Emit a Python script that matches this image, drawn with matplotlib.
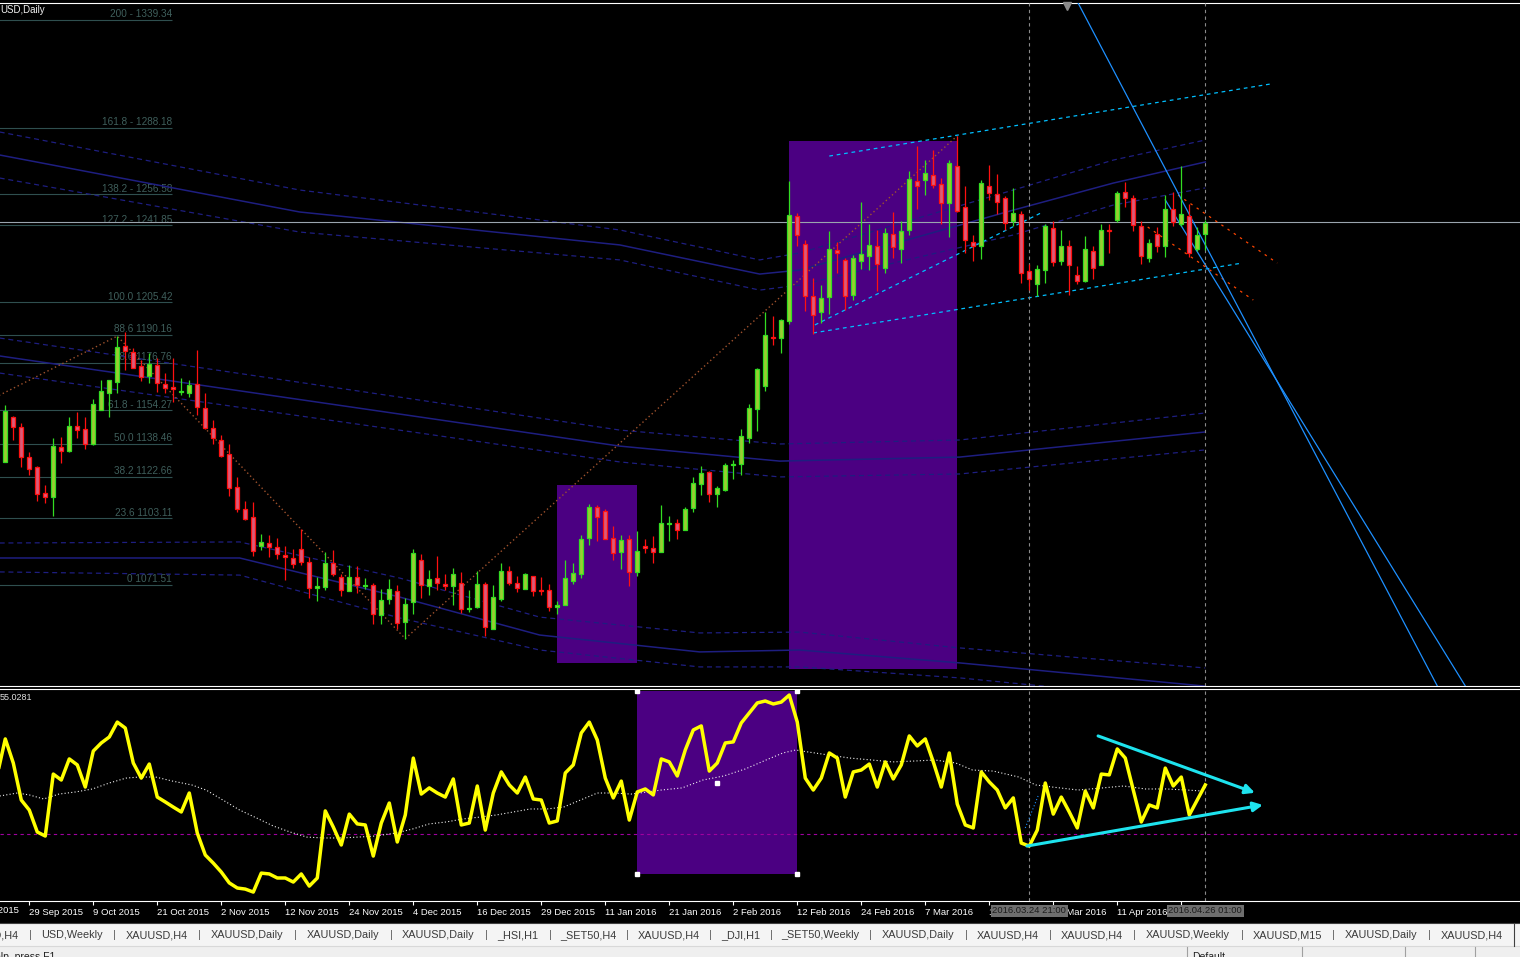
import numpy as np
import matplotlib.pyplot as plt
import matplotlib.transforms as mtransforms
from matplotlib.patches import Rectangle

plt.rcParams['font.family'] = ['Liberation Sans', 'DejaVu Sans']

# XAUUSD daily bars, index 0 = 24 Sep 2015 ... index 150 = 26 Apr 2016
opens = [1130.0, 1151.2, 1146.2, 1132.1, 1127.3, 1115.0, 1113.4, 1136.9, 1135.0, 1146.8,
         1145.3, 1138.3, 1154.4, 1162.6, 1167.8, 1184.6, 1181.8, 1175.2, 1170.6, 1175.7,
         1166.7, 1165.1, 1162.8, 1162.6, 1166.5, 1155.2, 1145.7, 1140.2, 1133.5, 1117.9,
         1107.5, 1103.7, 1089.8, 1091.4, 1089.5, 1085.8, 1084.3, 1088.6, 1082.5, 1070.2,
         1070.6, 1082.0, 1075.4, 1068.6, 1075.4, 1070.9, 1071.4, 1057.2, 1065.0, 1068.6,
         1053.9, 1063.4, 1083.2, 1070.9, 1074.9, 1072.1, 1070.9, 1072.5, 1059.9, 1061.0,
         1072.2, 1050.8, 1065.0, 1078.3, 1072.5, 1069.8, 1076.0, 1068.9, 1068.9, 1061.2,
         1062.0, 1073.3, 1076.5, 1093.6, 1108.5, 1106.7, 1093.9, 1087.0, 1093.4, 1077.5,
         1090.2, 1089.2, 1087.0, 1100.4, 1101.0, 1097.4, 1107.8, 1119.3, 1125.0, 1114.6,
         1116.6, 1128.3, 1128.6, 1141.3, 1154.7, 1165.7, 1189.0, 1188.7, 1196.6, 1246.5,
         1233.1, 1208.4, 1200.8, 1207.9, 1230.0, 1225.3, 1208.7, 1224.9, 1227.3, 1231.9,
         1221.6, 1237.9, 1230.8, 1239.8, 1263.1, 1263.4, 1265.7, 1261.5, 1252.5, 1270.1,
         1250.4, 1233.9, 1232.0, 1260.4, 1256.8, 1254.7, 1243.8, 1247.3, 1220.2, 1214.3,
         1220.9, 1240.7, 1224.9, 1232.0, 1218.5, 1215.3, 1229.7, 1222.9, 1239.9, 1244.5,
         1257.9, 1254.9, 1241.5, 1226.5, 1237.9, 1232.0, 1249.7, 1242.3, 1246.2, 1230.5,
         1237.9]
highs = [1156.8, 1151.6, 1148.1, 1134.4, 1128.1, 1118.8, 1141.0, 1141.5, 1150.9, 1153.4,
         1150.9, 1159.6, 1168.6, 1168.6, 1189.4, 1191.4, 1184.0, 1178.0, 1181.2, 1178.8,
         1171.7, 1178.8, 1169.4, 1168.6, 1182.7, 1162.3, 1149.7, 1142.6, 1138.3, 1122.9,
         1111.4, 1110.6, 1095.8, 1095.3, 1093.8, 1089.8, 1088.6, 1098.2, 1084.8, 1075.4,
         1087.2, 1088.3, 1076.5, 1081.2, 1080.7, 1074.9, 1072.5, 1069.7, 1074.4, 1071.4,
         1065.4, 1088.6, 1086.4, 1078.8, 1085.4, 1076.5, 1079.6, 1077.6, 1068.9, 1078.0,
         1072.8, 1071.7, 1081.7, 1080.7, 1075.6, 1077.2, 1076.0, 1075.2, 1072.2, 1063.9,
         1083.5, 1082.0, 1095.3, 1110.0, 1109.5, 1107.5, 1099.3, 1095.3, 1095.3, 1097.2,
         1093.4, 1094.5, 1109.5, 1104.3, 1102.8, 1108.4, 1122.6, 1127.9, 1125.6, 1118.5,
         1129.2, 1130.8, 1145.3, 1157.1, 1174.1, 1200.8, 1198.9, 1197.4, 1263.1, 1247.9,
         1234.7, 1216.9, 1213.4, 1239.4, 1234.2, 1226.3, 1227.9, 1253.1, 1242.6, 1239.9,
         1240.7, 1248.4, 1243.7, 1267.8, 1279.6, 1273.0, 1277.7, 1264.1, 1273.0, 1284.3,
         1260.7, 1237.5, 1263.4, 1270.6, 1266.2, 1256.0, 1259.6, 1248.9, 1223.7, 1222.9,
         1242.6, 1243.7, 1239.8, 1235.0, 1222.4, 1236.6, 1231.9, 1242.6, 1242.6, 1258.3,
         1262.2, 1256.4, 1243.7, 1235.5, 1241.0, 1256.4, 1257.8, 1270.1, 1252.0, 1241.0,
         1244.5]
lows = [1130.0, 1140.2, 1127.6, 1123.7, 1111.1, 1110.3, 1104.0, 1129.5, 1134.7, 1141.0,
        1136.0, 1137.9, 1154.4, 1150.9, 1162.6, 1173.3, 1174.1, 1168.1, 1167.0, 1163.1,
        1162.3, 1158.3, 1161.5, 1160.4, 1152.0, 1145.3, 1138.3, 1132.3, 1113.9, 1105.9,
        1102.4, 1085.1, 1087.9, 1084.6, 1083.9, 1073.8, 1079.6, 1080.8, 1065.4, 1063.9,
        1069.0, 1075.7, 1066.2, 1068.6, 1067.8, 1069.7, 1052.8, 1052.8, 1062.7, 1050.5,
        1046.1, 1057.6, 1065.4, 1067.0, 1069.0, 1069.0, 1061.8, 1058.4, 1058.6, 1060.4,
        1047.3, 1050.8, 1063.9, 1071.4, 1068.1, 1069.4, 1066.2, 1067.0, 1059.1, 1057.6,
        1062.0, 1072.2, 1074.6, 1090.6, 1092.2, 1093.4, 1083.2, 1079.3, 1070.9, 1075.7,
        1086.7, 1082.0, 1087.0, 1092.2, 1093.4, 1097.4, 1106.3, 1114.2, 1110.6, 1108.3,
        1116.1, 1121.8, 1123.7, 1139.0, 1144.6, 1163.5, 1185.1, 1181.2, 1195.0, 1231.9,
        1201.2, 1190.6, 1195.4, 1199.7, 1219.3, 1201.6, 1206.4, 1221.0, 1220.5, 1210.7,
        1219.3, 1226.3, 1224.2, 1237.1, 1249.4, 1256.3, 1259.6, 1242.6, 1236.3, 1248.1,
        1228.7, 1224.9, 1226.1, 1253.9, 1247.3, 1239.9, 1241.8, 1214.7, 1211.1, 1208.2,
        1214.5, 1222.6, 1223.2, 1208.7, 1214.2, 1215.0, 1216.6, 1222.9, 1228.7, 1243.3,
        1250.5, 1239.1, 1223.7, 1224.5, 1229.2, 1227.1, 1241.8, 1241.8, 1226.8, 1229.7,
        1230.3]
closes = [1153.9, 1146.5, 1132.1, 1126.5, 1114.6, 1113.0, 1137.4, 1135.2, 1146.8, 1145.1,
          1138.5, 1157.2, 1163.4, 1168.6, 1184.3, 1182.4, 1174.4, 1169.9, 1176.1, 1167.0,
          1164.9, 1164.2, 1163.4, 1166.2, 1155.7, 1145.7, 1141.0, 1132.8, 1117.4, 1107.5,
          1102.9, 1087.5, 1092.0, 1089.4, 1086.2, 1084.8, 1081.5, 1082.5, 1070.2, 1070.9,
          1082.0, 1076.8, 1068.9, 1075.4, 1071.3, 1071.4, 1057.9, 1064.6, 1069.4, 1053.6,
          1062.3, 1086.7, 1071.3, 1074.4, 1072.5, 1070.9, 1076.8, 1060.3, 1060.7, 1072.2,
          1051.7, 1065.9, 1078.3, 1072.5, 1070.2, 1076.8, 1068.6, 1068.6, 1061.2, 1062.0,
          1074.6, 1077.2, 1093.4, 1108.5, 1103.5, 1093.4, 1086.7, 1093.0, 1077.5, 1087.8,
          1088.9, 1087.0, 1101.0, 1101.0, 1097.4, 1107.6, 1119.8, 1124.5, 1114.6, 1117.4,
          1128.4, 1128.9, 1142.1, 1155.5, 1173.6, 1189.8, 1188.4, 1196.9, 1247.0, 1237.1,
          1208.4, 1199.6, 1207.6, 1230.8, 1228.7, 1208.4, 1226.5, 1228.4, 1232.8, 1223.7,
          1238.3, 1231.5, 1239.4, 1263.9, 1260.7, 1266.7, 1261.0, 1252.5, 1271.4, 1248.9,
          1234.7, 1232.0, 1262.0, 1257.2, 1253.1, 1243.1, 1247.8, 1219.4, 1216.6, 1221.3,
          1241.5, 1224.5, 1232.0, 1223.2, 1215.3, 1230.8, 1221.8, 1239.8, 1239.1, 1257.2,
          1254.9, 1242.1, 1227.3, 1233.6, 1232.0, 1249.7, 1243.3, 1247.3, 1228.9, 1237.4,
          1243.1]

# oscillator (index -1 ... 150) and its dotted signal line
osc = [59.2, 76.1, 64.8, 47.4, 42.7, 32.4, 30.5, 59.6, 56.8, 66.7, 63.9,
       53.5, 70.4, 74.2, 77.0, 84.0, 81.2, 64.8, 57.7, 64.3, 48.8,
       46.5, 44.1, 41.8, 50.7, 31.9, 21.6, 17.8, 13.6, 8.5, 6.1,
       5.6, 4.2, 13.1, 12.7, 10.8, 10.8, 8.9, 12.7, 7.0, 10.8,
       42.3, 34.7, 26.3, 40.8, 36.2, 35.7, 21.1, 36.6, 46.0, 27.7,
       40.4, 67.1, 50.2, 53.1, 50.7, 48.8, 57.3, 35.7, 36.6, 54.0,
       33.3, 50.7, 60.6, 54.5, 50.7, 58.2, 47.9, 47.4, 36.6, 37.6,
       60.1, 63.9, 78.9, 84.0, 75.6, 57.7, 48.4, 56.3, 38.0, 51.2,
       52.6, 49.8, 66.7, 65.3, 58.7, 70.9, 80.3, 82.2, 61.0, 64.8,
       74.2, 74.7, 83.6, 88.3, 93.0, 93.9, 92.5, 93.4, 96.7, 84.0,
       57.7, 52.1, 57.7, 69.5, 67.1, 48.8, 60.6, 61.5, 64.3, 53.5,
       65.3, 57.3, 63.9, 77.5, 72.8, 76.1, 65.3, 53.5, 69.5, 45.5,
       35.7, 34.3, 60.6, 55.9, 52.1, 43.7, 48.4, 27.2, 25.8, 33.3,
       55.4, 40.8, 48.8, 41.8, 34.3, 51.6, 43.7, 59.6, 59.2, 71.4,
       67.1, 52.1, 37.1, 45.1, 43.7, 62.4, 54.0, 58.2, 40.4, 47.4,
       54.5]
sig_x = [-0.7, 1.5, 3.0, 4.8, 6.7, 8.8, 10.9, 13.0, 15.1, 16.7, 18.8, 20.9, 23.3, 25.1,
         27.2, 29.3, 31.4, 33.5, 35.6, 37.7, 39.8, 42.0, 44.1, 46.2, 48.8, 50.9, 53.0,
         55.1, 57.2, 59.3, 61.4, 63.5, 65.6, 67.7, 69.8, 71.9, 74.0, 76.1, 78.2, 79.3,
         82.0, 84.6, 87.2, 89.8, 92.5, 95.1, 97.2, 98.8, 100.3, 103.0, 105.6, 108.3,
         110.9, 113.5, 116.2, 118.8, 120.9, 123.5, 126.7, 128.8, 130.9, 134.1, 137.2,
         139.8, 142.5, 145.1, 147.7, 149.8]
sig_v = [49.3, 50.7, 49.8, 47.9, 50.2, 51.2, 52.6, 55.4, 57.7, 58.2, 58.2, 56.3, 54.5, 52.1,
         47.4, 42.7, 39.0, 35.2, 32.4, 30.0, 29.6, 29.6, 30.0, 30.5, 31.9, 33.8, 36.2,
         37.1, 38.5, 39.4, 40.4, 41.8, 43.2, 43.2, 44.1, 47.4, 50.7, 50.7, 50.2, 50.7,
         52.1, 53.1, 56.8, 58.7, 62.0, 66.2, 69.5, 70.9, 70.0, 68.5, 67.1, 66.2,
         65.3, 65.7, 66.2, 64.8, 61.5, 61.0, 58.2, 54.5, 53.5, 52.1, 53.1,
         54.0, 52.6, 52.6, 52.1, 51.6]
osc_level = 31.5

# Fibonacci retracement
fib_labels = ['200 - 1339.34', '161.8 - 1288.18', '138.2 - 1256.58', '127.2 - 1241.85',
              '100.0 1205.42', '88.6 1190.16', '78.6 1176.76', '61.8 - 1154.27',
              '50.0 1138.46', '38.2 1122.66', '23.6 1103.11', '0 1071.51']
fib_prices = [1339.34, 1288.18, 1256.58, 1241.85, 1205.42, 1190.16, 1176.76, 1154.27,
              1138.46, 1122.66, 1103.11, 1071.51]

# moving-average envelopes (upper / middle / lower)
ma1_x = [-0.7, 36.8, 76.8, 94.3, 99.3, 126.0, 138.5, 150.0]
ma1_up = [1286.1, 1258.6, 1239.7, 1225.5, 1228.8, 1258.6, 1272.8, 1282.3]
ma1_mid = [1275.2, 1248.2, 1232.6, 1218.8, 1220.7, 1249.1, 1261.9, 1271.9]
ma1_lo = [1264.3, 1238.7, 1225.5, 1211.2, 1213.6, 1237.3, 1251.5, 1259.6]
ma2_x = [-0.7, 51.8, 76.8, 96.8, 119.3, 150.0]
ma2_up = [1188.5, 1159.1, 1144.9, 1138.3, 1140.2, 1153.0]
ma2_mid = [1180.0, 1151.1, 1137.3, 1130.2, 1132.1, 1144.0]
ma2_lo = [1171.9, 1143.5, 1129.8, 1122.7, 1124.1, 1135.5]
ma3_x = [-0.7, 29.3, 49.3, 66.8, 86.8, 99.3, 119.3, 150.0]
ma3_up = [1091.4, 1091.9, 1074.8, 1056.3, 1048.8, 1049.2, 1041.7, 1032.2]
ma3_mid = [1084.3, 1084.3, 1065.8, 1047.8, 1039.8, 1040.7, 1034.6, 1023.6]
ma3_lo = [1077.7, 1076.2, 1055.9, 1040.7, 1032.7, 1032.7, 1027.5, 1016.1]

# zigzag and drawn objects
zz_x = [-5, 14, 50, 119]
zz_p = [1153.3, 1189.4, 1046.1, 1284.3]
chan_up = [(103.0, 1274.7), (158.1, 1308.8)]
chan_mid = [(101.2, 1194.7), (129.7, 1248.2)]
chan_lo = [(101.0, 1190.9), (154.6, 1224.0)]
red_1 = [(146.6, 1256.2), (159.0, 1224.0)]
red_2 = [(142.8, 1241.1), (156.0, 1206.5)]
blue_1 = [(134.1, 1347.2), (179.0, 1023.7)]
blue_2 = [(145.0, 1253.9), (182.5, 1023.7)]
hline_price = 1243.3
vlines_idx = [128, 150]
vline_lbl = ['2016.03.24 21:00', '2016.04.26 01:00']
rects = [(69, 79, 1034.5, 1118.9), (98, 119, 1031.7, 1281.8)]
osc_rect = (79, 99, 12.7, 98.6)
arrow_1 = [(136.6, 77.5), (156.2, 50.8)]
arrow_2 = [(127.7, 25.8), (157.2, 45.1)]

tick_idx = [-5, 3, 11, 19, 27, 35, 43, 51, 59, 67, 75, 83, 91, 99, 107, 115, 123, 131, 139, 147]
tick_lbl = ['17 Sep 2015', '29 Sep 2015', '9 Oct 2015', '21 Oct 2015', '2 Nov 2015',
            '12 Nov 2015', '24 Nov 2015', '4 Dec 2015', '16 Dec 2015', '29 Dec 2015',
            '11 Jan 2016', '21 Jan 2016', '2 Feb 2016', '12 Feb 2016', '24 Feb 2016',
            '7 Mar 2016', '17 Mar 2016', '29 Mar 2016', '11 Apr 2016', '21 Apr 2016']

tab_names = ['XAUUSD,H4', 'USD,Weekly', 'XAUUSD,H4', 'XAUUSD,Daily', 'XAUUSD,Daily',
             'XAUUSD,Daily', '_HSI,H1', '_SET50,H4', 'XAUUSD,H4', '_DJI,H1', '_SET50,Weekly',
             'XAUUSD,Daily', 'XAUUSD,H4', 'XAUUSD,H4', 'XAUUSD,Weekly', 'XAUUSD,M15',
             'XAUUSD,Daily', 'XAUUSD,H4']
tab_seps = [30, 114, 199, 295, 391, 486, 550, 627, 710, 771, 870, 966, 1050, 1134, 1242,
            1333, 1429, 1514]

W, H = 1520, 957
XLIM = (-0.66, 189.34)
fig = plt.figure(figsize=(W / 100, H / 100), dpi=100, facecolor='black')
ax = fig.add_axes([0, 1 - 686 / H, 1, 683 / H], facecolor='none')
ind = fig.add_axes([0, 1 - 901 / H, 1, 212.5 / H], facecolor='none')
for a in (ax, ind):
    a.spines['left'].set_visible(False)
    a.spines['right'].set_visible(False)
    a.spines['top'].set_color('white')
    a.spines['bottom'].set_color('white')
    a.spines['top'].set_linewidth(0.8)
    a.spines['bottom'].set_linewidth(0.8)
    a.set_yticks([])
ax.set_xticks([])
ax.set_ylim(1023.66, 1347.2)
ind.set_ylim(0, 99.77)

# rectangles
for x0, x1, y0, y1 in rects:
    ax.add_patch(Rectangle((x0, y0), x1 - x0, y1 - y0, fc='#4b0082', ec='none', zorder=1))

# fibo
ax.hlines(fib_prices, -1, 20.84, colors='#2f4f4f', lw=0.8, zorder=2)
for lbl, p in zip(fib_labels, fib_prices):
    ax.annotate(lbl, (20.84, p), xytext=(0, 2), textcoords='offset points',
                ha='right', va='baseline', fontsize=7.2, color='#3f5f5c', zorder=2)

# envelopes
navy = '#1e1e80'
for xs, up, mid, lo in ((ma1_x, ma1_up, ma1_mid, ma1_lo), (ma2_x, ma2_up, ma2_mid, ma2_lo),
                        (ma3_x, ma3_up, ma3_mid, ma3_lo)):
    ax.plot(xs, up, color=navy, lw=0.9, ls=(0, (4, 3)), zorder=2)
    ax.plot(xs, mid, color=navy, lw=1.1, zorder=2)
    ax.plot(xs, lo, color=navy, lw=0.9, ls=(0, (4, 3)), zorder=2)

ax.plot(zz_x, zz_p, color='#a0522d', lw=1.0, ls=(0, (1, 2)), zorder=2)
ax.axhline(hline_price, color='#9aa4ae', lw=0.8, zorder=2)
for seg in (chan_up, chan_mid, chan_lo):
    ax.plot(*zip(*seg), color='#00bfff', lw=0.9, ls=(0, (3, 3)), zorder=2)
for seg in (red_1, red_2):
    ax.plot(*zip(*seg), color='#ff4500', lw=0.9, ls=(0, (2, 4)), zorder=2)
for seg in (blue_1, blue_2):
    ax.plot(*zip(*seg), color='#1e90ff', lw=0.9, zorder=3)
ax.plot([132.7], [1346.0], marker='v', ms=6, color='#8a8a8a', clip_on=False, zorder=3)

# candles
o, h, l, c = map(np.array, (opens, highs, lows, closes))
idx = np.arange(len(o))
bull = c >= o
edge = np.where(bull, '#33dd22', '#ff1010')
fill = np.where(bull, '#9acd32', '#dc5a78')
ax.vlines(idx, l, h, colors=edge, lw=0.9, zorder=4)
ax.bar(idx, np.maximum(np.abs(c - o), 0.4), bottom=np.minimum(o, c), width=0.52,
       color=fill, edgecolor=edge, linewidth=0.9, zorder=5)

for v in vlines_idx:
    for a in (ax, ind):
        a.axvline(v, color='#8a8a8a', lw=0.8, ls=(0, (3, 3)), zorder=3)

# oscillator panel
x0, x1, y0, y1 = osc_rect
ind.add_patch(Rectangle((x0, y0), x1 - x0, y1 - y0, fc='#4b0082', ec='none', zorder=1))
ind.plot([x0, x1, x0, x1, (x0 + x1) / 2], [y1, y1, y0, y0, 55.4], 's', ms=2.5,
         color='white', zorder=5)
ind.axhline(osc_level, color='#a000a0', lw=0.8, ls=(0, (3, 3)), zorder=2)
ind.plot(sig_x, sig_v, color='#f0f0f0', lw=0.8, ls=(0, (1, 2)), zorder=3)
ind.plot(np.arange(-1, len(osc) - 1), osc, color='#ffff00', lw=2.5, zorder=4)
ind.plot([127.5, 129.1], [34.3, 49.3], color='#1e90ff', lw=0.8, ls=(0, (1, 2)), zorder=3)
for a0, a1 in (arrow_1, arrow_2):
    ind.annotate('', xy=a1, xytext=a0,
                 arrowprops=dict(arrowstyle='-|>', color='#1ee3ee', lw=2.2,
                                 mutation_scale=14, shrinkA=0, shrinkB=0), zorder=5)

# time axis: ticks inside the view, plus the partly hidden first label
inside = [(t, s) for t, s in zip(tick_idx, tick_lbl) if t >= XLIM[0]]
ind.set_xticks([t for t, _ in inside])
ind.set_xticklabels([s for _, s in inside], ha='left', fontsize=6.8, color='white')
ind.tick_params(axis='x', direction='out', length=3, color='white', pad=2)
for a in (ax, ind):
    a.set_xlim(*XLIM)

blend = mtransforms.blended_transform_factory(ind.transData, ind.transAxes)
for t, s in zip(tick_idx, tick_lbl):
    if t < XLIM[0]:
        ind.text(t, -0.047, s, transform=blend, ha='left', va='center', fontsize=6.8,
                 color='white', clip_on=False)
for v, lbl in zip(vlines_idx, vline_lbl):
    ind.text(v, -0.047, lbl, transform=blend, ha='center', va='center', fontsize=6.8,
             color='#1c1c1c', clip_on=False, zorder=6,
             bbox=dict(boxstyle='square,pad=0.18', fc='#6e6e6e', ec='none'))

# window chrome
ui = fig.add_axes([0, 0, 1, 1], facecolor='none')
ui.set_xlim(0, W)
ui.set_ylim(H, 0)
ui.axis('off')
ui.text(0, 10, 'USD,Daily', fontsize=7, color='#f0f0f0', va='center', ha='left')
ui.text(0, 697, '55.0281', fontsize=6.5, color='#e0e0e0', va='center', ha='left')
ui.add_patch(Rectangle((0, 923), W, 23, fc='#f4f4f4', ec='none'))
ui.add_patch(Rectangle((0, 946), W, 11, fc='#efefef', ec='none'))
ui.plot([0, W], [923, 923], color='#404040', lw=0.8)
ui.plot([0, W], [946, 946], color='#d8d8d8', lw=0.8)
ui.text(19, 935, tab_names[0], fontsize=7.8, color='#3a3a3a', ha='right', va='center')
ui.text(tab_seps[0], 935, '|', fontsize=8, color='#606060', ha='center', va='center')
for k in range(1, len(tab_names)):
    left, sep = tab_seps[k - 1], tab_seps[k]
    ui.text((left + sep) / 2, 935, tab_names[k], fontsize=7.8, color='#3a3a3a',
            ha='center', va='center')
    if k < len(tab_names) - 1:
        ui.text(sep, 935, '|', fontsize=8, color='#606060', ha='center', va='center')
ui.plot([1514, 1514], [923, 946], color='#404040', lw=0.8)
for sx in (1187, 1302, 1405, 1475):
    ui.plot([sx, sx], [947, 957], color='#a0a0a0', lw=0.8)
ui.text(1192, 957, 'Default', fontsize=7.5, color='#202020', va='center')
ui.text(55, 957, 'For Help, press F1', fontsize=7.5, color='#202020', va='center', ha='right')

fig.savefig('out.png', dpi=100, facecolor='black')
